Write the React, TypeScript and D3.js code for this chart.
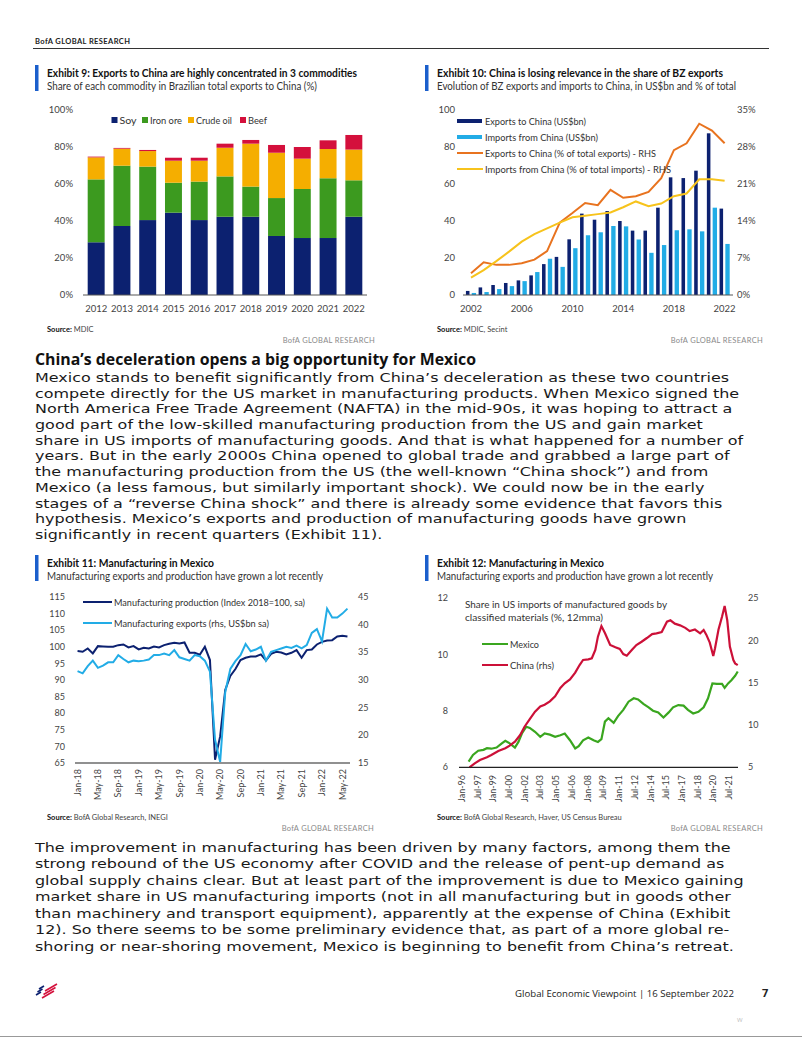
import React from 'react';
import * as d3 from 'd3';

const FONT = "Lato, 'Open Sans', sans-serif";
const BODY_FONT = "'DejaVu Sans', 'Open Sans', sans-serif";
const HEAD_FONT = "'Open Sans', 'Noto Sans', sans-serif";
const NAVY = '#0c2170';
const SKY = '#22ace6';
const TITLE_BLUE = '#1b5fcc';

// ---------- Exhibit 9 data ----------
const years9 = ['2012', '2013', '2014', '2015', '2016', '2017', '2018', '2019', '2020', '2021', '2022'];
const soyShare = [28.5, 37.3, 40.5, 44.5, 40.5, 42.3, 42.3, 31.9, 30.8, 30.8, 42.3];
const ironOreShare = [34.0, 32.6, 28.9, 16.2, 20.8, 21.8, 16.3, 20.5, 26.5, 32.3, 19.7];
const crudeOilShare = [11.9, 9.2, 8.4, 11.9, 11.3, 15.5, 23.2, 24.5, 16.4, 15.8, 16.6];
const beefShare = [0.4, 0.4, 0.6, 1.6, 1.6, 2.2, 2.0, 4.2, 6.3, 4.7, 7.9];
const commodities = ['Soy', 'Iron ore', 'Crude oil', 'Beef'];
const commodityColors = [NAVY, '#3c9a1f', '#f5ae00', '#d4103c'];
const yTicks9 = [0, 20, 40, 60, 80, 100];

// ---------- Exhibit 10 data ----------
const years10 = ['2002', '2003', '2004', '2005', '2006', '2007', '2008', '2009', '2010', '2011', '2012', '2013', '2014', '2015', '2016', '2017', '2018', '2019', '2020', '2021', '2022'];
const exportsBn = [2.2, 4.1, 5.4, 6.5, 7.9, 10.6, 16.7, 20.6, 30.1, 44.0, 40.7, 45.4, 40.0, 34.8, 34.8, 47.2, 63.6, 63.2, 67.2, 87.4, 46.7];
const importsBn = [1.1, 1.6, 3.2, 4.8, 7.5, 12.4, 19.6, 15.2, 25.3, 32.3, 33.9, 37.3, 37.1, 30.0, 22.8, 27.0, 35.0, 35.5, 34.4, 47.2, 27.6];
const exportsPct = [4.1, 6.2, 5.7, 5.7, 6.0, 6.7, 8.3, 13.7, 15.5, 17.4, 17.0, 19.9, 18.4, 18.7, 19.5, 22.1, 27.4, 28.7, 32.4, 31.1, 28.7];
const importsPct = [3.3, 4.7, 6.4, 8.2, 10.1, 11.5, 12.6, 13.7, 14.7, 15.0, 15.3, 15.6, 16.6, 17.7, 16.8, 17.3, 18.7, 19.2, 21.9, 21.9, 21.6];
const xTicks10 = ['2002', '2006', '2010', '2014', '2018', '2022'];
const yTicks10L = [0, 20, 40, 60, 80, 100];
const yTicks10R = [0, 7, 14, 21, 28, 35];

// ---------- Exhibit 11 data (monthly from Jan-18) ----------
const start11 = '2018-01';
const mfgProduction = [98.7, 98.5, 99.5, 98.0, 100.2, 100.1, 100.0, 100.0, 100.5, 100.7, 99.8, 100.2, 99.2, 99.7, 99.5, 100.1, 99.8, 100.5, 100.9, 101.2, 101.0, 101.3, 98.2, 98.2, 97.6, 100.0, 96.0, 66.0, 73.0, 87.0, 91.2, 93.3, 96.0, 96.7, 97.1, 97.1, 97.7, 95.9, 97.9, 98.5, 98.3, 97.7, 98.2, 99.0, 96.7, 99.0, 99.2, 100.7, 101.5, 101.9, 102.0, 103.1, 103.3, 103.1];
const mfgExports = [31.6, 31.2, 32.5, 33.5, 32.2, 32.6, 33.2, 33.2, 34.5, 33.8, 33.2, 33.5, 33.4, 33.5, 33.7, 34.5, 34.5, 34.8, 34.5, 35.4, 34.1, 33.8, 33.5, 34.5, 34.3, 33.5, 31.5, 19.2, 15.2, 27.8, 32.0, 33.4, 34.5, 36.5, 35.2, 35.5, 36.0, 33.5, 35.1, 35.4, 35.7, 36.0, 35.8, 36.2, 35.7, 36.3, 38.5, 39.2, 37.0, 42.9, 41.3, 41.3, 42.0, 42.9];
const xTicks11 = ['Jan-18', 'May-18', 'Sep-18', 'Jan-19', 'May-19', 'Sep-19', 'Jan-20', 'May-20', 'Sep-20', 'Jan-21', 'May-21', 'Sep-21', 'Jan-22', 'May-22'];
const yTicks11L = [65, 70, 75, 80, 85, 90, 95, 100, 105, 110, 115];
const yTicks11R = [15, 20, 25, 30, 35, 40, 45];

// ---------- Exhibit 12 data ----------
const mexicoShare: [string, number][] = [
  ['1996-09', 6.2], ['1997-02', 6.44], ['1997-08', 6.59], ['1998-02', 6.62], ['1998-06', 6.68], ['1998-11', 6.66],
  ['1999-05', 6.7], ['1999-11', 6.85], ['2000-03', 6.94], ['2000-08', 6.85], ['2001-02', 6.7], ['2001-06', 6.9],
  ['2001-10', 7.2], ['2002-03', 7.44], ['2002-07', 7.4], ['2003-01', 7.26], ['2003-07', 7.08], ['2003-12', 7.2],
  ['2004-06', 7.16], ['2004-12', 7.08], ['2005-06', 7.14], ['2005-11', 7.2], ['2006-05', 6.96], ['2006-11', 6.67],
  ['2007-03', 6.75], ['2007-08', 6.96], ['2008-02', 7.06], ['2008-08', 6.96], ['2009-01', 6.9], ['2009-05', 7.0],
  ['2009-09', 7.62], ['2010-01', 7.74], ['2010-07', 7.58], ['2010-12', 7.82], ['2011-06', 8.04], ['2011-12', 8.33],
  ['2012-06', 8.45], ['2012-11', 8.41], ['2013-05', 8.25], ['2013-11', 8.13], ['2014-04', 8.01], ['2014-10', 7.95],
  ['2015-04', 7.77], ['2015-10', 7.95], ['2016-03', 8.13], ['2016-09', 8.21], ['2017-03', 8.19], ['2017-08', 8.04],
  ['2018-02', 7.91], ['2018-08', 7.97], ['2019-02', 8.13], ['2019-07', 8.45], ['2019-12', 8.98], ['2020-05', 8.96],
  ['2020-11', 8.96], ['2021-02', 8.82], ['2021-06', 8.98], ['2021-10', 9.1], ['2022-02', 9.25], ['2022-05', 9.4],
];
const chinaShare: [string, number][] = [
  ['1996-10', 5.0], ['1997-04', 5.47], ['1997-10', 5.86], ['1998-06', 6.18], ['1998-11', 6.45], ['1999-07', 6.93],
  ['2000-03', 7.25], ['2000-08', 7.57], ['2001-02', 8.04], ['2001-08', 8.82], ['2002-01', 9.8], ['2002-07', 10.7],
  ['2003-01', 11.58], ['2003-07', 12.2], ['2003-12', 12.4], ['2004-06', 12.8], ['2004-12', 13.4], ['2005-06', 14.4],
  ['2005-11', 14.94], ['2006-05', 15.4], ['2006-11', 16.2], ['2007-04', 17.1], ['2007-08', 17.7], ['2008-02', 17.78],
  ['2008-06', 17.9], ['2008-10', 18.88], ['2009-01', 20.46], ['2009-05', 21.72], ['2009-09', 20.9], ['2010-03', 19.47],
  ['2010-09', 19.2], ['2011-02', 19.0], ['2011-06', 18.4], ['2011-10', 18.2], ['2012-04', 18.9], ['2012-09', 19.47],
  ['2013-03', 19.86], ['2013-09', 20.3], ['2014-03', 20.77], ['2014-08', 20.85], ['2015-02', 21.0], ['2015-08', 22.23],
  ['2015-12', 22.4], ['2016-05', 22.0], ['2016-11', 21.8], ['2017-05', 21.5], ['2017-10', 21.12], ['2018-04', 21.3],
  ['2018-10', 20.85], ['2019-02', 21.25], ['2019-05', 20.7], ['2019-09', 19.75], ['2020-01', 18.17], ['2020-03', 19.1],
  ['2020-07', 21.3], ['2020-11', 22.82], ['2021-02', 24.08], ['2021-05', 22.4], ['2021-08', 19.28], ['2021-12', 17.7],
  ['2022-02', 17.3], ['2022-05', 17.1],
];
const xTicks12 = ['Jan-96', 'Jul-97', 'Jan-99', 'Jul-00', 'Jan-02', 'Jul-03', 'Jan-05', 'Jul-06', 'Jan-08', 'Jul-09', 'Jan-11', 'Jul-12', 'Jan-14', 'Jul-15', 'Jan-17', 'Jul-18', 'Jan-20', 'Jul-21'];
const yTicks12L = [6, 8, 10, 12];
const yTicks12R = [5, 10, 15, 20, 25];

// ---------- Text ----------
const para1 = [
  'Mexico stands to benefit significantly from China’s deceleration as these two countries',
  'compete directly for the US market in manufacturing products. When Mexico signed the',
  'North America Free Trade Agreement (NAFTA) in the mid-90s, it was hoping to attract a',
  'good part of the low-skilled manufacturing production from the US and gain market',
  'share in US imports of manufacturing goods. And that is what happened for a number of',
  'years. But in the early 2000s China opened to global trade and grabbed a large part of',
  'the manufacturing production from the US (the well-known “China shock”) and from',
  'Mexico (a less famous, but similarly important shock). We could now be in the early',
  'stages of a “reverse China shock” and there is already some evidence that favors this',
  'hypothesis. Mexico’s exports and production of manufacturing goods have grown',
  'significantly in recent quarters (Exhibit 11).',
];
const para2 = [
  'The improvement in manufacturing has been driven by many factors, among them the',
  'strong rebound of the US economy after COVID and the release of pent-up demand as',
  'global supply chains clear. But at least part of the improvement is due to Mexico gaining',
  'market share in US manufacturing imports (not in all manufacturing but in goods other',
  'than machinery and transport equipment), apparently at the expense of China (Exhibit',
  '12). So there seems to be some preliminary evidence that, as part of a more global re-',
  'shoring or near-shoring movement, Mexico is beginning to benefit from China’s retreat.',
];

// month helpers
const monthIdx = (s: string) => {
  const [yy, mm] = s.split('-').map(Number);
  return (yy - 1996) * 12 + (mm - 1);
};
const MON: Record<string, number> = { Jan: 0, Feb: 1, Mar: 2, Apr: 3, May: 4, Jun: 5, Jul: 6, Aug: 7, Sep: 8, Oct: 9, Nov: 10, Dec: 11 };
const labelIdx = (lab: string, baseYear: number) => {
  const [m, y] = lab.split('-');
  const yr = 2000 + Number(y) > 2050 ? 1900 + Number(y) : 2000 + Number(y);
  return (yr - baseYear) * 12 + MON[m];
};

function ExhibitHeader({ x, y, title, subtitle, tw, sw }: any) {
  return (
    <g>
      <rect x={x} y={y} width={3.5} height={26} fill={TITLE_BLUE} />
      <text x={x + 12} y={y + 12} fontFamily={FONT} fontWeight={700} fontSize={11} fill="#111" textLength={tw} lengthAdjust="spacingAndGlyphs">{title}</text>
      <text x={x + 12} y={y + 24.5} fontFamily={FONT} fontSize={10.5} fill="#333" textLength={sw} lengthAdjust="spacingAndGlyphs">{subtitle}</text>
    </g>
  );
}

function SourceLine({ x, y, text, right }: any) {
  return (
    <g fontFamily={FONT} fontSize={7.5}>
      <text x={x} y={y} fill="#111"><tspan fontWeight={700}>Source:</tspan><tspan fill="#444">{'  ' + text}</tspan></text>
      <text x={right} y={y + 11} textAnchor="end" fill="#8a8a8a" letterSpacing={0.3}>BofA GLOBAL RESEARCH</text>
    </g>
  );
}

function Exhibit9() {
  const x = d3.scaleBand<string>().domain(years9).range([83, 367]).paddingInner(0.342).paddingOuter(0.182);
  const y = d3.scaleLinear().domain([0, 100]).range([295, 110]);
  const table = years9.map((yr, i) => ({ year: yr, Soy: soyShare[i], 'Iron ore': ironOreShare[i], 'Crude oil': crudeOilShare[i], Beef: beefShare[i] }));
  const stacked = d3.stack<any>().keys(commodities)(table);
  const legendX = [111.5, 142, 188, 240];
  const legendW = [17, 32, 36, 19];
  return (
    <g fontFamily={FONT}>
      <ExhibitHeader x={35} y={65} title="Exhibit 9: Exports to China are highly concentrated in 3 commodities" subtitle="Share of each commodity in Brazilian total exports to China (%)" tw={310} sw={270} />
      {yTicks9.map(t => (
        <text key={t} x={73} y={y(t)} dy="0.35em" textAnchor="end" fontSize={9.5} fill="#444">{t}%</text>
      ))}
      {stacked.map((s, si) => (
        <g key={si} fill={commodityColors[si]}>
          {s.map((d: any, i: number) => (
            <rect key={i} x={x(years9[i])} width={x.bandwidth()} y={y(d[1])} height={y(d[0]) - y(d[1])} />
          ))}
        </g>
      ))}
      <line x1={83} x2={367} y1={y(0)} y2={y(0)} stroke="#555" strokeWidth={1} />
      {years9.map(yr => (
        <text key={yr} x={(x(yr) as number) + x.bandwidth() / 2} y={311.5} textAnchor="middle" fontSize={9.5} fill="#444">{yr}</text>
      ))}
      {commodities.map((c, i) => (
        <g key={c}>
          <rect x={legendX[i]} y={117} width={6} height={6} fill={commodityColors[i]} />
          <text x={legendX[i] + 8} y={123.5} fontSize={10} fill="#333" textLength={legendW[i]} lengthAdjust="spacingAndGlyphs">{c}</text>
        </g>
      ))}
      <SourceLine x={47} y={332} text="MDIC" right={375} />
    </g>
  );
}

function Exhibit10() {
  const x = d3.scaleBand<string>().domain(years10).range([464.66, 730.96]).paddingInner(0.2).paddingOuter(0.1);
  const inner = d3.scaleBand<string>().domain(['exp', 'imp']).range([0, x.bandwidth()]).paddingInner(0.25);
  const yL = d3.scaleLinear().domain([0, 100]).range([295, 110]);
  const yR = d3.scaleLinear().domain([0, 35]).range([295, 110]);
  const cx = (yr: string) => (x(yr) as number) + x.bandwidth() / 2;
  const line = d3.line<number>().x((_, i) => cx(years10[i])).y(v => yR(v));
  const legend = [
    { t: 'Exports to China (US$bn)', kind: 'bar', c: NAVY, w: 101 },
    { t: 'Imports from China (US$bn)', kind: 'bar', c: SKY, w: 113 },
    { t: 'Exports to China (% of total exports) - RHS', kind: 'line', c: '#e8731f', w: 171 },
    { t: 'Imports from China (% of total imports) - RHS', kind: 'line', c: '#f7c31c', w: 186 },
  ];
  return (
    <g fontFamily={FONT}>
      <ExhibitHeader x={425} y={65} title="Exhibit 10: China is losing relevance in the share of BZ exports" subtitle="Evolution of BZ exports and imports to China, in US$bn and % of total" tw={286} sw={299} />
      {yTicks10L.map(t => (
        <text key={t} x={455} y={yL(t)} dy="0.35em" textAnchor="end" fontSize={9.5} fill="#444">{t}</text>
      ))}
      {yTicks10R.map(t => (
        <text key={t} x={737} y={yR(t)} dy="0.35em" fontSize={9.5} fill="#444">{t}%</text>
      ))}
      {years10.map((yr, i) => (
        <g key={yr}>
          <rect x={(x(yr) as number) + (inner('exp') as number)} width={inner.bandwidth() - 0.8} y={yL(exportsBn[i])} height={yL(0) - yL(exportsBn[i])} fill={NAVY} />
          <rect x={(x(yr) as number) + (inner('imp') as number)} width={inner.bandwidth()} y={yL(importsBn[i])} height={yL(0) - yL(importsBn[i])} fill={SKY} />
        </g>
      ))}
      <line x1={463} x2={733} y1={295} y2={295} stroke="#555" strokeWidth={1} />
      <path d={line(exportsPct) as string} fill="none" stroke="#e8731f" strokeWidth={2} />
      <path d={line(importsPct) as string} fill="none" stroke="#f7c31c" strokeWidth={2} />
      {xTicks10.map(t => (
        <text key={t} x={cx(t)} y={311.5} textAnchor="middle" fontSize={9.5} fill="#444">{t}</text>
      ))}
      {legend.map((l, i) => {
        const ly = 121 + i * 16;
        return (
          <g key={l.t}>
            {l.kind === 'bar'
              ? <rect x={457} y={ly - 2} width={25} height={4} fill={l.c} />
              : <line x1={457} x2={483} y1={ly} y2={ly} stroke={l.c} strokeWidth={2} />}
            <text x={485} y={ly + 3.5} fontSize={10} fill="#333" textLength={l.w} lengthAdjust="spacingAndGlyphs">{l.t}</text>
          </g>
        );
      })}
      <SourceLine x={437} y={332} text="MDIC, Secint" right={763} />
    </g>
  );
}

function Exhibit11() {
  const x = d3.scaleLinear().domain([-0.5, mfgProduction.length - 0.5]).range([75, 350]);
  const yL = d3.scaleLinear().domain([65, 115]).range([763, 597]);
  const yR = d3.scaleLinear().domain([15, 45]).range([763, 597]);
  const base = Number(start11.slice(0, 4));
  const lineL = d3.line<number>().x((_, i) => x(i)).y(v => yL(v));
  const lineR = d3.line<number>().x((_, i) => x(i)).y(v => yR(v));
  return (
    <g fontFamily={FONT}>
      <ExhibitHeader x={35} y={555} title="Exhibit 11: Manufacturing in Mexico" subtitle="Manufacturing exports and production have grown a lot recently" tw={167} sw={276} />
      {yTicks11L.map(t => (
        <text key={t} x={65} y={yL(t)} dy="0.35em" textAnchor="end" fontSize={9} fill="#444">{t}</text>
      ))}
      {yTicks11R.map(t => (
        <text key={t} x={358} y={yR(t)} dy="0.35em" fontSize={9} fill="#444">{t}</text>
      ))}
      <path d={lineL(mfgProduction) as string} fill="none" stroke={NAVY} strokeWidth={2} />
      <path d={lineR(mfgExports) as string} fill="none" stroke={SKY} strokeWidth={2} />
      <line x1={75} x2={350} y1={763} y2={763} stroke="#222" strokeWidth={1.2} />
      {xTicks11.map(t => {
        const xi = x(labelIdx(t, base));
        return (
          <text key={t} transform={`translate(${xi},${769}) rotate(-90)`} dy="0.35em" textAnchor="end" fontSize={9} fill="#444">{t}</text>
        );
      })}
      <line x1={83} x2={112} y1={602} y2={602} stroke={NAVY} strokeWidth={2} />
      <text x={114} y={605.5} fontSize={10} fill="#333" textLength={191} lengthAdjust="spacingAndGlyphs">Manufacturing production (Index 2018=100, sa)</text>
      <line x1={83} x2={112} y1={623} y2={623} stroke={SKY} strokeWidth={2} />
      <text x={114} y={626.5} fontSize={10} fill="#333" textLength={155} lengthAdjust="spacingAndGlyphs">Manufacturing exports (rhs, US$bn sa)</text>
      <SourceLine x={47} y={820} text="BofA Global Research, INEGI" right={374} />
    </g>
  );
}

function Exhibit12() {
  const x = d3.scaleLinear().domain([-3, 316.3]).range([459, 738]);
  const yL = d3.scaleLinear().domain([6, 12]).range([767.3, 598.3]);
  const yR = d3.scaleLinear().domain([5, 25]).range([767.3, 598.3]);
  const lineL = d3.line<[string, number]>().x(d => x(monthIdx(d[0]))).y(d => yL(d[1]));
  const lineR = d3.line<[string, number]>().x(d => x(monthIdx(d[0]))).y(d => yR(d[1]));
  return (
    <g fontFamily={FONT}>
      <ExhibitHeader x={425} y={555} title="Exhibit 12: Manufacturing in Mexico" subtitle="Manufacturing exports and production have grown a lot recently" tw={167} sw={276} />
      {yTicks12L.map(t => (
        <text key={t} x={448} y={yL(t)} dy="0.35em" textAnchor="end" fontSize={9} fill="#444">{t}</text>
      ))}
      {yTicks12R.map(t => (
        <text key={t} x={748} y={yR(t)} dy="0.35em" fontSize={9} fill="#444">{t}</text>
      ))}
      <text x={465} y={608} fontSize={10} fill="#333" textLength={202} lengthAdjust="spacingAndGlyphs">Share in US imports of manufactured goods by</text>
      <text x={465} y={620.5} fontSize={10} fill="#333" textLength={138} lengthAdjust="spacingAndGlyphs">classified materials (%, 12mma)</text>
      <path d={lineL(mexicoShare) as string} fill="none" stroke="#3aa61f" strokeWidth={2.2} />
      <path d={lineR(chinaShare) as string} fill="none" stroke="#cc1038" strokeWidth={2.2} />
      <line x1={459} x2={738} y1={767.3} y2={767.3} stroke="#222" strokeWidth={1.2} />
      {xTicks12.map(t => {
        const xi = x(labelIdx(t, 1996));
        return (
          <text key={t} transform={`translate(${xi},${775}) rotate(-90)`} dy="0.35em" textAnchor="end" fontSize={9} fill="#444">{t}</text>
        );
      })}
      <line x1={482} x2={508} y1={644} y2={644} stroke="#3aa61f" strokeWidth={2} />
      <text x={510} y={647.5} fontSize={10} fill="#333" textLength={29} lengthAdjust="spacingAndGlyphs">Mexico</text>
      <line x1={482} x2={508} y1={665} y2={665} stroke="#cc1038" strokeWidth={2} />
      <text x={510} y={668.5} fontSize={10} fill="#333" textLength={44} lengthAdjust="spacingAndGlyphs">China (rhs)</text>
      <SourceLine x={437} y={820} text="BofA Global Research, Haver, US Census  Bureau" right={763} />
    </g>
  );
}

function Logo() {
  const stripes = [0, 1, 2];
  return (
    <g>
      {stripes.map(i => (
        <line key={'n' + i} x1={36 + i * 1.5} y1={995 - i * 3} x2={41 + i * 1.5} y2={992 - i * 3} stroke={NAVY} strokeWidth={1.6} />
      ))}
      {stripes.map(i => (
        <line key={'r' + i} x1={42 + i * 1.5} y1={998 - i * 3.5} x2={54 + i * 1.5} y2={991 - i * 3.5} stroke="#d4103c" strokeWidth={1.6} />
      ))}
    </g>
  );
}

const BODY_SIZE = 13;
const BODY_SCALE = 1.228;

export default function App() {
  return (
    <svg width={802} height={1037} viewBox="0 0 802 1037" style={{ position: 'absolute', left: 0, top: 0, background: '#fff' }}>
      <rect width={802} height={1037} fill="#fff" />
      <text x={35} y={44} fontFamily={FONT} fontSize={7.5} fontWeight={700} fill="#222" textLength={95} lengthAdjust="spacing">BofA GLOBAL RESEARCH</text>
      <line x1={33} x2={769} y1={48.5} y2={48.5} stroke="#333" strokeWidth={1} />
      <Exhibit9 />
      <Exhibit10 />
      <text x={35} y={365} fontFamily={HEAD_FONT} fontWeight={700} fontSize={16.5} fill="#111" textLength={441} lengthAdjust="spacingAndGlyphs">China’s deceleration opens a big opportunity for Mexico</text>
      <g fontFamily={BODY_FONT} fontSize={BODY_SIZE} fill="#1a1a1a" transform={`translate(35,0) scale(${BODY_SCALE},1) translate(-35,0)`}>
        {para1.map((l, i) => (
          <text key={i} x={35} y={382 + i * 15.7}>{l}</text>
        ))}
        {para2.map((l, i) => (
          <text key={i} x={35} y={852 + i * 16.5}>{l}</text>
        ))}
      </g>
      <Exhibit11 />
      <Exhibit12 />
      <Logo />
      <text x={734} y={997} textAnchor="end" fontFamily={HEAD_FONT} fontSize={9.6} fill="#222">Global Economic Viewpoint | 16 September 2022</text>
      <text x={762} y={997} fontFamily={HEAD_FONT} fontSize={11} fontWeight={700} fill="#222">7</text>
      <text x={737} y={1022} fontFamily={HEAD_FONT} fontSize={6} fill="#bbb">W</text>
      <line x1={0} x2={802} y1={1036.5} y2={1036.5} stroke="#999" strokeWidth={1} />
    </svg>
  );
}
